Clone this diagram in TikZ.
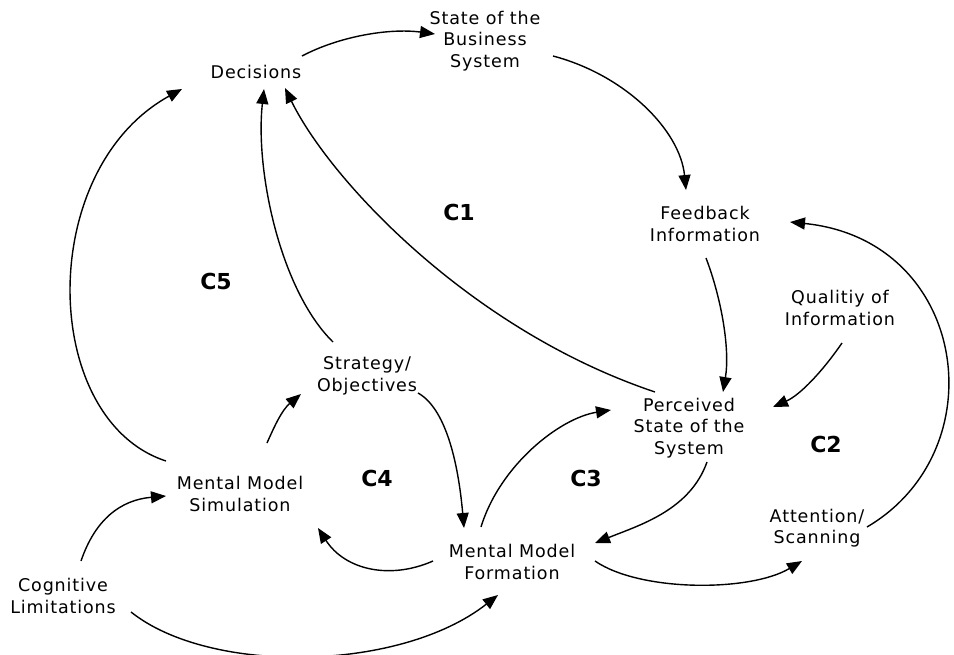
\documentclass[tikz,border=0pt]{standalone}
\usepackage{fontspec}
\newfontfamily\varfont[LetterSpace=5]{DejaVu Sans}
\newfontfamily\loopfont{DejaVu Sans}
\usetikzlibrary{arrows.meta}
\begin{document}
\begin{tikzpicture}[x=1pt,y=-1pt,
  var/.style={font=\varfont\fontsize{17.5}{21.5}\selectfont, align=center, inner sep=0pt},
  loopid/.style={font=\loopfont\bfseries\fontsize{22}{26}\selectfont, inner sep=0pt},
  link/.style={line width=1.4pt, -{Triangle[length=15pt,width=12pt]}}]
\useasboundingbox (0,0) rectangle (954,654);

% variables of the causal map
\node[var] (dec)   at (256,72)  {Decisions};
\node[var] (state) at (485,41)  {State of the\\Business\\System};
\node[var] (fb)    at (705,224) {Feedback\\Information};
\node[var] (qual)  at (840,308) {Qualitiy of\\Information};
\node[var] (perc)  at (689,428) {Perceived\\State of the\\System};
\node[var] (att)   at (817,528) {Attention/\\Scanning};
\node[var] (mmf)   at (512,562) {Mental Model\\Formation};
\node[var] (cog)   at (63,596)  {Cognitive\\Limitations};
\node[var] (mms)   at (240,494) {Mental Model\\Simulation};
\node[var] (strat) at (367,376) {Strategy/\\Objectives};

% loop identifiers
\node[loopid] (c1) at (459,212) {C1};
\node[loopid] (c2) at (826,444) {C2};
\node[loopid] (c3) at (586,478) {C3};
\node[loopid] (c4) at (377,478) {C4};
\node[loopid] (c5) at (216,281) {C5};

% causal links
\draw[link] ([shift={(46,-16)}]dec.center) .. controls (340,36) and (390,28) .. ([shift={(-50,-7)}]state.center);
\draw[link] ([shift={(68,15)}]state.center) .. controls (625,75) and (680,130) .. ([shift={(-19,-34)}]fb.center);
\draw[link] ([shift={(1,34)}]fb.center) .. controls (722,300) and (730,350) .. ([shift={(34,-36)}]perc.center);
\draw[link] ([shift={(2,35)}]qual.center) .. controls (822,372) and (800,395) .. ([shift={(84,-21)}]perc.center);
\draw[link] ([shift={(-34,-36)}]perc.center) .. controls (470,330) and (330,180) .. ([shift={(29,16)}]dec.center);
\draw[link] ([shift={(-34,-34)}]strat.center) .. controls (280,290) and (255,170) .. ([shift={(8,17)}]dec.center);
\draw[link] ([shift={(-74,-33)}]mms.center) .. controls (40,420) and (35,170) .. ([shift={(-74,17)}]dec.center);
\draw[link] ([shift={(27,-51)}]mms.center) .. controls (275,425) and (282,410) .. ([shift={(-66,18)}]strat.center);
\draw[link] ([shift={(51,17)}]strat.center) .. controls (445,408) and (458,460) .. ([shift={(-48,-34)}]mmf.center);
\draw[link] ([shift={(-79,-1)}]mmf.center) .. controls (390,580) and (345,570) .. ([shift={(78,34)}]mms.center);
\draw[link] ([shift={(-31,-35)}]mmf.center) .. controls (500,465) and (560,418) .. ([shift={(-78,-18)}]perc.center);
\draw[link] ([shift={(18,34)}]perc.center) .. controls (690,510) and (640,525) .. ([shift={(83,-19)}]mmf.center);
\draw[link] ([shift={(83,-1)}]mmf.center) .. controls (640,592) and (750,592) .. ([shift={(-15,33)}]att.center);
\draw[link] ([shift={(50,-1)}]att.center) .. controls (998,450) and (968,240) .. ([shift={(85,-2)}]fb.center);
\draw[link] ([shift={(18,-35)}]cog.center) .. controls (95,520) and (120,500) .. ([shift={(-74,2)}]mms.center);
\draw[link] ([shift={(68,16)}]cog.center) .. controls (210,675) and (400,672) .. ([shift={(-14,33)}]mmf.center);
\end{tikzpicture}
\end{document}
